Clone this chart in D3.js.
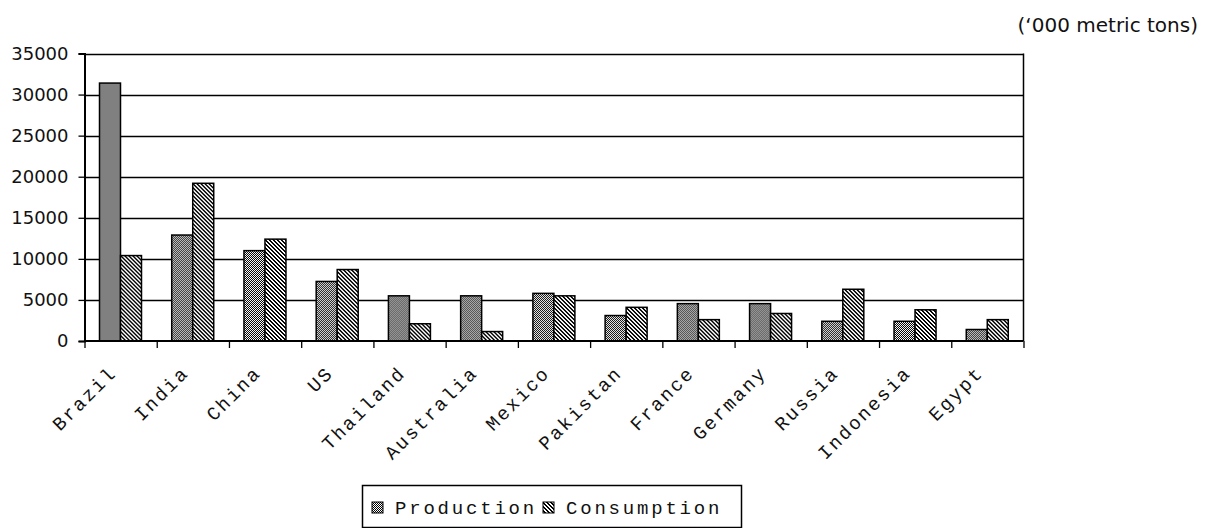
<!DOCTYPE html>
<html>
<head>
<meta charset="utf-8">
<script src="https://cdn.jsdelivr.net/npm/d3@7"></script>
<style>
  html, body { margin: 0; padding: 0; background: #fff; }
  svg { display: block; }
</style>
</head>
<body>
<svg id="chart" width="1213" height="528"></svg>
<script>
const categories = ["Brazil","India","China","US","Thailand","Australia","Mexico","Pakistan","France","Germany","Russia","Indonesia","Egypt"];
const production  = [31400, 12900, 11000, 7250, 5500, 5500, 5800, 3100, 4550, 4550, 2400, 2400, 1400];
const consumption = [10400, 19200, 12400, 8700, 2100, 1150, 5500, 4100, 2600, 3350, 6300, 3800, 2600];
const seriesNames = ["Production", "Consumption"];
const yTicks = [0, 5000, 10000, 15000, 20000, 25000, 30000, 35000];
const unitLabel = "(\u2018000 metric tons)";

const svg = d3.select("#chart");
const plotLeft = 84.5, plotRight = 1023.5, plotTop = 53.5, plotBottom = 341;

const x0 = d3.scaleBand().domain(categories).range([plotLeft, plotRight]).padding(0);
const x1 = d3.scaleBand().domain(seriesNames).range([15, 57]).padding(0);
const y = d3.scaleLinear().domain([0, 35000]).range([plotBottom, plotTop]);

// patterns
const defs = svg.append("defs");
const p1 = defs.append("pattern").attr("id", "pat-prod").attr("patternUnits", "userSpaceOnUse")
  .attr("width", 2).attr("height", 2);
p1.append("rect").attr("width", 2).attr("height", 2).attr("fill", "#fff");
p1.append("rect").attr("x", 0).attr("y", 0).attr("width", 1).attr("height", 1).attr("fill", "#000");
p1.append("rect").attr("x", 1).attr("y", 1).attr("width", 1).attr("height", 1).attr("fill", "#000");

const p2 = defs.append("pattern").attr("id", "pat-cons").attr("patternUnits", "userSpaceOnUse")
  .attr("width", 4).attr("height", 4);
p2.append("rect").attr("width", 4).attr("height", 4).attr("fill", "#fff");
for (let yy = 0; yy < 4; yy++) {
  for (let xx = 0; xx < 4; xx++) {
    const m = ((xx - yy) % 4 + 4) % 4;
    if (m === 0 || m === 1) {
      p2.append("rect").attr("x", xx).attr("y", yy).attr("width", 1).attr("height", 1).attr("fill", "#000");
    }
  }
}
const fills = { "Production": "url(#pat-prod)", "Consumption": "url(#pat-cons)" };

// gridlines
svg.append("g").selectAll("line").data(yTicks.filter(d => d > 0)).join("line")
  .attr("x1", plotLeft).attr("x2", plotRight)
  .attr("y1", d => Math.round(y(d)) + 0.5).attr("y2", d => Math.round(y(d)) + 0.5)
  .attr("stroke", "#000").attr("stroke-width", 1.3);

// right border
svg.append("line").attr("x1", plotRight).attr("x2", plotRight).attr("y1", plotTop).attr("y2", plotBottom)
  .attr("stroke", "#000").attr("stroke-width", 1.5);

// bars
const rows = categories.map((c, i) => ({ cat: c, vals: [
  { s: "Production", v: production[i] }, { s: "Consumption", v: consumption[i] }] }));
svg.append("g").selectAll("g").data(rows).join("g")
  .attr("transform", d => `translate(${x0(d.cat)},0)`)
  .selectAll("rect").data(d => d.vals).join("rect")
  .attr("x", d => x1(d.s))
  .attr("width", x1.bandwidth())
  .attr("y", d => y(d.v))
  .attr("height", d => plotBottom - y(d.v))
  .attr("fill", d => fills[d.s])
  .attr("stroke", "#000").attr("stroke-width", 1.5);

// y axis
const yAxis = d3.axisLeft(y).tickValues(yTicks).tickSize(6).tickPadding(10).tickFormat(d3.format("d"));
const gy = svg.append("g").attr("transform", `translate(${plotLeft},0)`).call(yAxis);
gy.select(".domain").attr("stroke-width", 2);
gy.selectAll(".tick line").attr("stroke-width", 1.3);
gy.selectAll("text").attr("font-family", "DejaVu Sans").attr("font-size", 18).attr("fill", "#111");

// x axis
const xTickScale = d3.scaleLinear().domain([0, categories.length]).range([plotLeft, plotRight]);
const xAxis = d3.axisBottom(xTickScale).tickValues(d3.range(0, categories.length + 1)).tickSize(7).tickFormat("");
const gx = svg.append("g").attr("transform", `translate(0,${plotBottom})`).call(xAxis);
gx.select(".domain").attr("stroke-width", 2).attr("d", `M${plotLeft},0H${plotRight}`);
gx.selectAll(".tick line").attr("stroke-width", 1.3);

// x labels
svg.append("g").selectAll("text").data(categories).join("text")
  .attr("transform", d => `translate(${x0(d) + x0.bandwidth() / 2 - 3},${374}) rotate(-45)`)
  .attr("text-anchor", "end")
  .attr("font-family", "Liberation Mono")
  .attr("font-size", 19)
  .attr("letter-spacing", 2.2)
  .attr("fill", "#111")
  .text(d => d);

// unit label
svg.append("text").attr("x", 1198).attr("y", 32).attr("text-anchor", "end")
  .attr("font-family", "DejaVu Sans").attr("font-size", 20).attr("fill", "#111")
  .text(unitLabel);

// legend
const lg = svg.append("g");
lg.append("rect").attr("x", 362.5).attr("y", 485.5).attr("width", 379).attr("height", 42)
  .attr("fill", "#fff").attr("stroke", "#000").attr("stroke-width", 1.5);
const legendX = [372, 543];
seriesNames.forEach((s, i) => {
  lg.append("rect").attr("x", legendX[i]).attr("y", 502).attr("width", 11).attr("height", 11)
    .attr("fill", fills[s]).attr("stroke", "#000").attr("stroke-width", 1);
  lg.append("text").attr("x", legendX[i] + 23).attr("y", 514)
    .attr("font-family", "Liberation Mono").attr("font-size", 19).attr("letter-spacing", 2.8)
    .attr("fill", "#111").text(s);
});
</script>
</body>
</html>
